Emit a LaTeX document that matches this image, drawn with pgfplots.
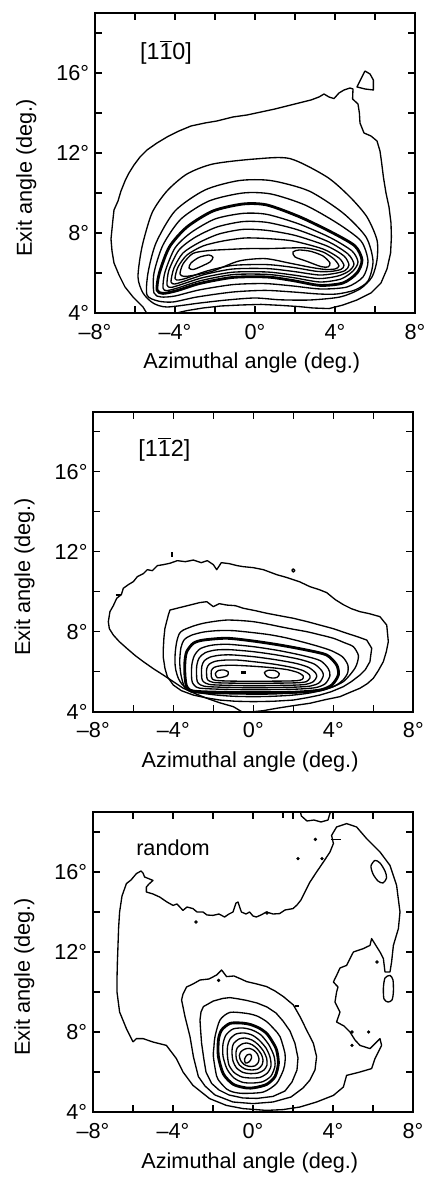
\documentclass[border=0pt]{standalone}
\usepackage{pgfplots}
\pgfplotsset{compat=1.18}
\usepackage{fontspec}
\setmainfont{Liberation Sans}
\newcommand\lbl{\fontsize{13}{15.5}\selectfont}

\pgfplotsset{
  panel/.style={
    scale only axis, width=192pt, height=180pt,
    xmin=-8, xmax=8, ymin=4, ymax=19,
    xtick={-8,-4,0,4,8}, minor xtick={-6,-2,2,6},
    ytick={4,8,12,16}, minor ytick={6,10,14,18},
    xticklabels={–8°,–4°,0°,4°,8°},
    yticklabels={4°,8°,12°,16°},
    tick align=inside,
    major tick length=4.2pt, minor tick length=4.2pt,
    tick style={black, line width=0.9pt},
    axis line style={black, line width=1.2pt},
    tick label style={font=\lbl},
    xticklabel style={yshift=-3pt},
    label style={font=\lbl},
    xlabel={Azimuthal angle (deg.)},
    ylabel={Exit angle (deg.)},
    xlabel style={at={(axis description cs:0.49,-0.168)}, anchor=center},
    ylabel style={at={(axis description cs:-0.215,0.45)}, anchor=center},
    anchor=south west,
  },
  cj/.style={black, line width=0.8pt, line join=round},
  cl/.style={black, line width=0.8pt, line join=round, smooth cycle, tension=0.45},
  ck/.style={black, line width=1.7pt, line join=round, smooth cycle, tension=0.45},
  dots/.style={only marks, mark=*, mark size=0.8pt, black},
}

\begin{document}
\begin{tikzpicture}
\useasboundingbox (0,0) rectangle (255pt,706.8pt);

%% ---------------- [1-10] ----------------
\begin{axis}[panel, at={(57pt,519pt)}]
\addplot[cj] coordinates {(-5.3,3.8) (-5.6,4.3) (-6.1,4.8) (-6.5,5.3) (-6.8,5.9) (-7.05,6.5) (-7.15,7.1) (-7.2,7.7) (-7.15,8.2) (-7.1,8.7) (-7.05,9.15) (-6.85,9.6) (-6.7,10.1) (-6.5,10.6) (-6.3,11.0) (-6.05,11.4) (-5.75,11.8) (-5.4,12.15) (-4.9,12.5) (-4.4,12.8) (-3.8,13.1) (-3.2,13.35) (-2.5,13.5) (-1.9,13.6) (-1.1,13.8) (-0.4,13.9) (0.3,14.05) (1.0,14.2) (1.6,14.35) (2.2,14.5) (2.8,14.65) (3.2,14.8) (3.45,14.95) (3.7,14.8) (3.95,14.72) (4.2,15.0) (4.45,15.15) (4.75,15.25) (4.9,15.2) (4.88,14.7) (5.15,14.45) (5.22,14.0) (5.25,13.5) (5.45,13.0) (5.8,12.85) (6.1,12.6) (6.25,12.1) (6.32,11.6) (6.42,10.8) (6.55,10.0) (6.7,9.3) (6.8,8.5) (6.82,7.8) (6.78,7.0) (6.6,6.2) (6.3,5.5) (5.8,5.0) (5.1,4.65) (4.4,4.4) (3.7,4.22) (2.9,4.25) (2.2,4.32) (1.3,4.38) (0.3,4.43) (-0.7,4.4) (-1.7,4.35) (-2.6,4.25) (-3.4,4.12) (-4.0,3.98) (-4.5,3.85) (-5.3,3.8)};
\addplot[cj] coordinates {(5.5,16.1) (5.75,15.95) (5.92,15.65) (5.92,15.15) (5.5,15.2) (5.1,15.3) (5.25,15.6) (5.5,16.1)};
% L1
\addplot[cl] coordinates {(-5.6,5.0) (-5.85,5.8) (-5.65,7.3) (-5.15,9.0) (-4.4,10.1) (-3.4,10.95) (-2.1,11.45) (0,11.7) (1.75,11.72) (3.6,10.8) (4.75,9.8) (5.6,8.8) (6.1,7.65) (6.1,6.65) (5.85,5.8) (5.25,5.2) (4.25,4.8) (2.75,4.65) (1.25,4.66) (0,4.75) (-1.4,4.65) (-2.75,4.5) (-4.4,4.3) (-5.1,4.5)};
% L2
\addplot[cl] coordinates {(-5.4,4.9) (-5.35,6.0) (-4.95,7.5) (-4.0,9.1) (-2.5,10.15) (-0.8,10.62) (0.8,10.62) (2.7,10.1) (4.4,9.0) (5.55,7.8) (5.9,6.6) (5.65,5.6) (5.0,5.15) (4.1,4.95) (3.2,4.95) (1.9,5.05) (0.5,5.13) (-1.1,5.05) (-2.9,4.8) (-4.1,4.55) (-4.85,4.6)};
% L3
\addplot[cl] coordinates {(-5.05,5.0) (-5.05,6.0) (-4.6,7.4) (-3.7,8.7) (-2.3,9.6) (-0.6,10.0) (0.8,9.95) (2.5,9.4) (4.1,8.5) (5.3,7.6) (5.65,6.6) (5.4,5.8) (4.6,5.3) (3.3,5.2) (1.9,5.35) (0.5,5.47) (-1.1,5.42) (-2.8,5.15) (-4.0,4.85) (-4.7,4.8)};
% L4 (heavy)
\addplot[ck] coordinates {(-4.9,5.15) (-4.78,6.0) (-4.28,7.3) (-3.4,8.3) (-2.1,9.1) (-0.6,9.45) (0.6,9.4) (2.25,8.8) (3.9,8.0) (5.0,7.35) (5.35,6.65) (5.1,6.0) (4.4,5.5) (3.25,5.38) (1.9,5.62) (0.6,5.8) (-1.1,5.78) (-2.75,5.48) (-3.9,5.12) (-4.6,4.98)};
% L5
\addplot[cl] coordinates {(-4.6,5.25) (-4.5,6.05) (-4.0,7.25) (-3.2,8.02) (-2.0,8.7) (-0.6,8.98) (0.6,8.93) (2.2,8.45) (3.8,7.75) (4.85,7.1) (5.15,6.55) (4.9,6.1) (4.3,5.7) (3.25,5.55) (1.9,5.77) (0.6,5.93) (-1.1,5.92) (-2.7,5.62) (-3.8,5.27) (-4.4,5.12)};
% L6
\addplot[cl] coordinates {(-4.4,5.4) (-4.3,6.15) (-3.8,7.15) (-3.0,7.78) (-1.9,8.3) (-0.6,8.57) (0.6,8.53) (2.1,8.17) (3.7,7.55) (4.65,6.95) (4.95,6.45) (4.7,6.1) (4.15,5.85) (3.2,5.72) (1.9,5.9) (0.6,6.05) (-1.1,6.04) (-2.6,5.77) (-3.7,5.42) (-4.2,5.28)};
% L7
\addplot[cl] coordinates {(-4.2,5.55) (-4.05,6.25) (-3.6,7.0) (-2.8,7.52) (-1.8,7.95) (-0.6,8.18) (0.6,8.13) (2.0,7.88) (3.6,7.35) (4.45,6.85) (4.7,6.4) (4.5,6.12) (4.0,5.98) (3.2,5.9) (1.9,6.08) (0.6,6.22) (-1.1,6.2) (-2.5,5.93) (-3.6,5.57) (-4.0,5.45)};
% L8
\addplot[cl] coordinates {(-4.0,5.72) (-3.85,6.3) (-3.4,6.9) (-2.6,7.35) (-1.6,7.6) (-0.5,7.75) (0.6,7.72) (1.9,7.6) (3.4,7.2) (4.2,6.75) (4.45,6.38) (4.3,6.18) (3.8,6.08) (3.1,6.08) (1.9,6.28) (0.6,6.42) (-1.1,6.38) (-2.4,6.1) (-3.4,5.75) (-3.8,5.65)};
% L9
\addplot[cl] coordinates {(-3.75,5.95) (-3.6,6.45) (-3.1,6.98) (-2.3,7.12) (-1.3,7.18) (-0.3,7.22) (0.7,7.22) (1.7,7.25) (2.6,7.25) (3.4,7.05) (3.95,6.7) (4.2,6.35) (4.0,6.2) (3.5,6.18) (2.8,6.28) (1.7,6.5) (0.5,6.72) (-0.8,6.6) (-2.1,6.1) (-3.1,5.88) (-3.55,5.83)};
% two maxima
\addplot[cl] coordinates {(-3.3,6.25) (-3.2,6.5) (-2.8,6.78) (-2.3,6.9) (-2.1,6.78) (-2.25,6.55) (-2.8,6.28) (-3.1,6.17)};
\addplot[cl] coordinates {(1.9,7.05) (2.2,7.15) (2.8,7.08) (3.4,6.85) (3.75,6.5) (3.65,6.3) (3.3,6.32) (2.6,6.58) (2.0,6.8)};
\node[font=\fontsize{14}{16}\selectfont] at (axis cs:-4.45,17.05) {[1$\overline{\hbox{1}}$0]};
\end{axis}

%% ---------------- [1-12] ----------------
\begin{axis}[panel, at={(56pt,279.8pt)}]
\addplot[cj] coordinates {(-0.5,3.95) (-1.0,4.25) (-1.7,4.45) (-2.33,4.67) (-2.9,4.9) (-3.5,5.17) (-4.0,5.5) (-4.5,5.83) (-5.0,6.15) (-5.5,6.5) (-5.9,6.8) (-6.33,7.17) (-6.7,7.5) (-7.0,7.83) (-7.2,8.15) (-7.25,8.5) (-7.17,9.0) (-7.0,9.3) (-6.83,9.67) (-6.6,9.85) (-6.5,10.17) (-6.25,10.35) (-6.0,10.5) (-5.8,10.75) (-5.5,10.9) (-5.3,11.1) (-5.05,11.05) (-4.8,11.3) (-4.5,11.35) (-4.17,11.42) (-3.8,11.55) (-3.4,11.5) (-3.0,11.58) (-2.6,11.45) (-2.3,11.55) (-2.0,11.35) (-1.83,11.1) (-1.6,11.45) (-1.2,11.4) (-0.8,11.3) (-0.5,11.25) (0,11.2) (0.5,11.1) (1.17,10.85) (1.7,10.7) (2.3,10.5) (2.83,10.25) (3.3,10.1) (3.67,9.95) (4.1,9.6) (4.5,9.35) (4.9,9.15) (5.33,9.0) (5.8,8.9) (6.33,8.75) (6.67,8.33) (6.75,7.5) (6.65,7.0) (6.5,6.5) (6.25,6.05) (6.0,5.67) (5.7,5.4) (5.33,5.17) (4.8,4.95) (4.33,4.75) (3.6,4.6) (2.83,4.42) (2.0,4.3) (1.17,4.17) (0.5,4.05) (-0.5,3.95)};
\addplot[cj] coordinates {(-4.25,8.83) (-4.17,9.08) (-3.7,9.2) (-3.17,9.33) (-2.7,9.45) (-2.33,9.5) (-2.0,9.25) (-1.7,9.4) (-1.33,9.33) (-0.9,9.3) (-0.5,9.17) (0.1,9.05) (0.67,8.92) (1.3,8.8) (2.0,8.67) (2.7,8.5) (3.33,8.33) (4.0,8.15) (4.67,7.92) (5.2,7.75) (5.67,7.58) (5.92,7.17) (5.83,6.5) (5.6,6.1) (5.33,5.83) (4.9,5.5) (4.5,5.25) (3.9,5.0) (3.33,4.83) (2.7,4.7) (2.0,4.58) (1.0,4.52) (0,4.5) (-0.9,4.52) (-1.67,4.58) (-2.4,4.7) (-3.0,4.83) (-3.6,5.05) (-4.0,5.33) (-4.3,5.75) (-4.42,6.17) (-4.5,6.7) (-4.5,7.17) (-4.47,7.7) (-4.42,8.17) (-4.25,8.83)};
\addplot[cl] coordinates {(-3.83,7.5) (-3.7,7.9) (-3.5,8.08) (-3.0,8.28) (-2.5,8.42) (-1.9,8.52) (-1.33,8.58) (-0.7,8.56) (0,8.5) (0.7,8.38) (1.33,8.25) (2.0,8.12) (2.67,8.0) (3.3,7.85) (4.0,7.67) (4.55,7.45) (5.0,7.25) (5.25,6.83) (5.2,6.45) (5.08,6.17) (4.8,5.8) (4.5,5.5) (4.0,5.25) (3.5,5.08) (2.8,4.93) (2.0,4.83) (1.0,4.77) (0,4.75) (-1.0,4.77) (-1.83,4.83) (-2.6,4.93) (-3.17,5.08) (-3.55,5.35) (-3.75,5.67) (-3.88,6.1) (-3.92,6.5) (-3.9,7.0)};
\addplot[cl] coordinates {(-3.62,7.2) (-3.45,7.6) (-3.1,7.82) (-2.5,7.98) (-1.8,8.05) (-1.0,8.05) (0,7.95) (0.8,7.85) (1.6,7.7) (2.4,7.5) (3.2,7.28) (3.9,7.05) (4.45,6.75) (4.72,6.35) (4.72,5.95) (4.5,5.6) (4.1,5.3) (3.5,5.1) (2.7,4.98) (1.8,4.92) (0.8,4.88) (-0.5,4.88) (-1.6,4.9) (-2.6,4.93) (-3.15,5.0) (-3.45,5.25) (-3.62,5.85) (-3.68,6.5)};
\addplot[ck] coordinates {(-3.42,6.5) (-3.33,7.0) (-3.0,7.42) (-2.5,7.58) (-1.33,7.67) (0,7.53) (1.33,7.33) (2.67,7.08) (3.67,6.83) (4.17,6.33) (4.25,5.83) (3.92,5.33) (3.33,5.08) (2.0,4.97) (0,4.95) (-1.67,4.97) (-3.0,5.03) (-3.33,5.25) (-3.42,5.83)};
\addplot[cl] coordinates {(-3.08,5.6) (-3.08,6.3) (-2.95,6.8) (-2.65,7.15) (-2.1,7.32) (-1.3,7.37) (0,7.25) (1.3,7.05) (2.5,6.8) (3.35,6.55) (3.75,6.15) (3.83,5.8) (3.6,5.4) (3.1,5.2) (2.0,5.12) (0,5.1) (-1.6,5.12) (-2.7,5.18) (-2.98,5.35)};
\addplot[cl] coordinates {(-2.83,5.65) (-2.83,6.3) (-2.7,6.7) (-2.4,6.95) (-1.9,7.08) (-1.2,7.1) (0,7.0) (1.2,6.83) (2.3,6.62) (3.05,6.38) (3.42,6.05) (3.5,5.8) (3.3,5.45) (2.85,5.28) (1.9,5.22) (0,5.2) (-1.5,5.22) (-2.45,5.27) (-2.75,5.42)};
\addplot[cl] coordinates {(-2.58,5.7) (-2.58,6.25) (-2.45,6.55) (-2.15,6.73) (-1.7,6.82) (-1.1,6.84) (0,6.75) (1.1,6.6) (2.1,6.42) (2.75,6.22) (3.1,5.95) (3.17,5.75) (3.0,5.5) (2.6,5.36) (1.8,5.32) (0,5.3) (-1.4,5.32) (-2.2,5.36) (-2.5,5.5)};
\addplot[cl] coordinates {(-2.33,5.75) (-2.33,6.15) (-2.2,6.38) (-1.9,6.52) (-1.4,6.58) (-0.8,6.58) (0,6.5) (1.0,6.38) (1.9,6.22) (2.5,6.05) (2.8,5.85) (2.83,5.68) (2.65,5.5) (2.3,5.45) (1.6,5.43) (0,5.42) (-1.3,5.43) (-2.0,5.46) (-2.27,5.58)};
\addplot[cl] coordinates {(-2.1,5.75) (-2.1,6.05) (-1.95,6.22) (-1.6,6.3) (-1.0,6.32) (0,6.27) (0.9,6.2) (1.7,6.1) (2.25,5.95) (2.5,5.78) (2.45,5.62) (2.2,5.55) (1.5,5.53) (0,5.52) (-1.2,5.53) (-1.85,5.56) (-2.05,5.63)};
\addplot[cl] coordinates {(-1.9,5.9) (-1.75,6.06) (-1.45,6.08) (-1.25,5.98) (-1.3,5.8) (-1.55,5.72) (-1.8,5.7)};
\addplot[cl] coordinates {(0.55,5.95) (0.75,6.07) (1.1,6.05) (1.3,5.9) (1.2,5.72) (0.95,5.68) (0.7,5.75)};
\addplot[black, line width=1.4pt] coordinates {(-0.62,5.95) (-0.38,5.95)};
\addplot[black, line width=1.2pt] coordinates {(-4.05,11.75) (-4.05,12.0)};
\addplot[black, line width=1.2pt] coordinates {(-6.88,9.83) (-6.62,9.83)};
\addplot[cj] coordinates {(1.92,11.06) (2.0,11.14) (2.08,11.06) (2.0,10.98) (1.92,11.06)};
\node[font=\fontsize{14}{16}\selectfont] at (axis cs:-4.45,17.1) {[1$\overline{\hbox{1}}$2]};
\end{axis}

%% ---------------- random ----------------
\begin{axis}[panel, at={(55.8pt,39.6pt)}]
\addplot[cj] coordinates {(-6.0,7.5) (-6.33,8.17) (-6.67,9.0) (-6.8,10.0) (-6.8,10.67) (-6.78,11.5) (-6.75,12.33) (-6.72,13.2) (-6.67,14.0) (-6.55,14.8) (-6.33,15.42) (-6.1,15.6) (-5.83,15.92) (-5.6,16.05) (-5.5,15.95) (-5.42,15.75) (-5.0,15.58) (-5.2,15.4) (-5.33,15.25) (-5.33,15.0) (-5.0,14.9) (-4.67,14.75) (-4.3,14.5) (-4.0,14.33) (-3.8,14.4) (-3.5,14.08) (-3.3,14.25) (-3.0,14.17) (-2.8,14.0) (-2.5,14.0) (-2.3,13.85) (-2.0,13.83) (-1.7,13.9) (-1.42,13.75) (-1.2,13.9) (-1.0,14.0) (-0.85,14.45) (-0.75,14.5) (-0.65,14.2) (-0.58,14.0) (-0.35,13.9) (-0.17,14.0) (0.0,13.8) (0.17,13.75) (0.4,13.85) (0.67,14.0) (1.0,13.9) (1.33,13.92) (1.6,14.1) (2.0,14.17) (2.2,14.35) (2.4,14.6) (2.6,15.0) (2.85,15.5) (3.18,16.0) (3.52,16.5) (3.85,17.0) (4.02,17.42) (3.93,17.83) (4.18,18.25) (4.68,18.42) (5.18,18.25) (5.68,17.67) (6.35,17.0) (6.85,16.33) (7.18,15.33) (7.35,14.0) (7.27,13.17) (7.02,12.33) (6.93,11.5) (6.85,11.0) (6.6,11.0) (6.52,11.67) (6.35,12.0) (5.93,12.67) (5.85,12.33) (5.52,12.17) (5.02,12.0) (4.85,11.67) (4.68,11.33) (4.35,11.2) (4.18,10.83) (4.02,10.5) (4.25,10.25) (4.18,10.0) (4.1,9.5) (4.35,9.0) (4.18,8.5) (4.55,8.3) (4.85,8.0) (5.1,7.6) (5.35,7.33) (5.85,7.17) (6.35,7.67) (6.43,7.33) (6.1,6.67) (5.93,6.17) (5.35,6.0) (4.68,5.83) (4.52,5.25) (4.02,4.83) (3.18,4.5) (2.35,4.25) (1.5,4.12) (0.67,4.08) (-0.5,4.17) (-1.33,4.33) (-2.17,4.67) (-3.0,5.33) (-3.5,6.0) (-3.83,6.67) (-4.33,7.33) (-5.0,7.5) (-5.5,7.67) (-5.83,7.67) (-6.0,7.5)};
\addplot[cj] coordinates {(2.35,19.1) (2.42,18.8) (2.7,18.55) (3.05,18.6) (3.4,18.5) (3.75,18.6) (3.9,19.1)};
\addplot[black, line width=0.9pt] coordinates {(1.5,18.95) (1.5,18.7)};
\addplot[cl] coordinates {(5.9,16.3) (6.1,16.58) (6.35,16.45) (6.6,16.05) (6.68,15.7) (6.5,15.45) (6.25,15.55) (6.0,15.9)};
\addplot[cl] coordinates {(6.6,10.7) (6.85,10.83) (7.0,10.6) (7.02,10.0) (6.95,9.6) (6.75,9.5) (6.55,9.65) (6.52,10.2)};
% contours round the maximum
\addplot[cj] coordinates {(-3.57,9.6) (-3.5,9.9) (-3.32,10.25) (-3.0,10.4) (-2.65,10.6) (-2.2,10.65) (-1.82,10.85) (-1.57,11.1) (-1.32,10.77) (-0.95,10.8) (-0.6,10.65) (-0.32,10.52) (0.2,10.4) (0.68,10.27) (1.1,10.05) (1.52,9.77) (2.02,9.35) (2.35,8.77) (2.68,8.1) (3.02,7.43) (3.18,6.77) (3.1,6.1) (2.85,5.6) (2.5,5.2) (1.9,4.75) (1.0,4.5) (0.0,4.42) (-1.0,4.5) (-1.9,4.85) (-2.4,5.3) (-2.73,5.77) (-2.98,6.77) (-3.15,7.77) (-3.4,8.77) (-3.57,9.6)};
\addplot[cj] coordinates {(-2.48,9.27) (-1.98,9.55) (-1.5,9.68) (-1.15,9.72) (-0.7,9.65) (-0.32,9.58) (0.2,9.45) (0.7,9.25) (1.15,8.95) (1.5,8.55) (1.85,8.05) (2.1,7.43) (2.25,6.7) (2.2,6.1) (1.95,5.5) (1.6,5.05) (1.0,4.78) (0.2,4.68) (-0.5,4.7) (-1.2,4.85) (-1.7,5.1) (-2.07,5.43) (-2.35,6.0) (-2.45,6.6) (-2.57,7.43) (-2.62,8.1) (-2.65,8.6) (-2.6,9.0) (-2.48,9.27)};
\addplot[cl] coordinates {(-1.65,8.6) (-1.15,8.98) (-0.32,8.93) (0.2,8.8) (0.68,8.52) (1.05,8.15) (1.35,7.77) (1.6,6.93) (1.6,6.5) (1.52,6.1) (1.18,5.43) (0.52,5.0) (-0.48,4.93) (-1.0,5.0) (-1.32,5.15) (-1.65,5.5) (-1.82,5.8) (-1.98,6.77) (-1.95,7.3) (-1.9,7.77)};
\addplot[ck] coordinates {(-1.57,8.1) (-1.15,8.43) (-0.6,8.45) (-0.15,8.38) (0.3,8.2) (0.68,7.93) (0.95,7.55) (1.18,7.1) (1.27,6.43) (1.1,5.77) (0.68,5.38) (0.1,5.22) (-0.32,5.2) (-0.98,5.38) (-1.48,5.9) (-1.73,6.77) (-1.73,7.6)};
\addplot[cl] coordinates {(-1.35,7.85) (-1.0,8.15) (-0.5,8.2) (-0.05,8.1) (0.4,7.85) (0.8,7.35) (1.05,6.8) (1.1,6.3) (0.9,5.8) (0.5,5.52) (0.0,5.45) (-0.5,5.48) (-0.95,5.7) (-1.3,6.15) (-1.5,6.8) (-1.5,7.4)};
\addplot[cl] coordinates {(-1.15,7.65) (-0.85,7.9) (-0.45,7.95) (-0.05,7.85) (0.3,7.6) (0.65,7.2) (0.85,6.75) (0.9,6.3) (0.72,5.95) (0.35,5.73) (-0.1,5.7) (-0.55,5.75) (-0.95,5.98) (-1.2,6.35) (-1.28,6.85) (-1.27,7.3)};
\addplot[cl] coordinates {(-0.95,7.45) (-0.7,7.65) (-0.4,7.7) (-0.05,7.6) (0.25,7.38) (0.52,7.05) (0.68,6.7) (0.7,6.35) (0.55,6.1) (0.25,5.95) (-0.15,5.92) (-0.5,5.98) (-0.82,6.2) (-1.0,6.55) (-1.05,6.95) (-1.03,7.25)};
\addplot[cl] coordinates {(-0.78,7.22) (-0.55,7.4) (-0.3,7.45) (-0.02,7.35) (0.22,7.15) (0.42,6.88) (0.5,6.6) (0.45,6.35) (0.25,6.15) (-0.05,6.1) (-0.4,6.15) (-0.68,6.35) (-0.83,6.65) (-0.85,6.98)};
\addplot[cl] coordinates {(-0.6,7.02) (-0.4,7.15) (-0.18,7.18) (0.05,7.08) (0.22,6.9) (0.3,6.65) (0.25,6.45) (0.08,6.3) (-0.2,6.28) (-0.45,6.38) (-0.62,6.58) (-0.68,6.82)};
\addplot[cl] coordinates {(-0.42,6.65) (-0.3,6.85) (-0.12,6.88) (-0.07,6.7) (-0.2,6.5) (-0.38,6.45)};
% isolated counts
\addplot[dots] coordinates {(3.12,17.63) (3.45,16.67) (2.25,16.67) (-2.85,13.5) (0.7,13.95) (-1.72,10.58) (4.95,8.0) (5.78,8.0) (4.95,7.33) (6.2,11.5)};
\addplot[black, line width=1.0pt] coordinates {(3.9,17.63) (4.42,17.63)};
\addplot[black, line width=0.8pt] coordinates {(2.1,9.3) (2.32,9.3)};
\node[font=\lbl] at (axis cs:-4.0,17.2) {random};
\end{axis}
\end{tikzpicture}
\end{document}
